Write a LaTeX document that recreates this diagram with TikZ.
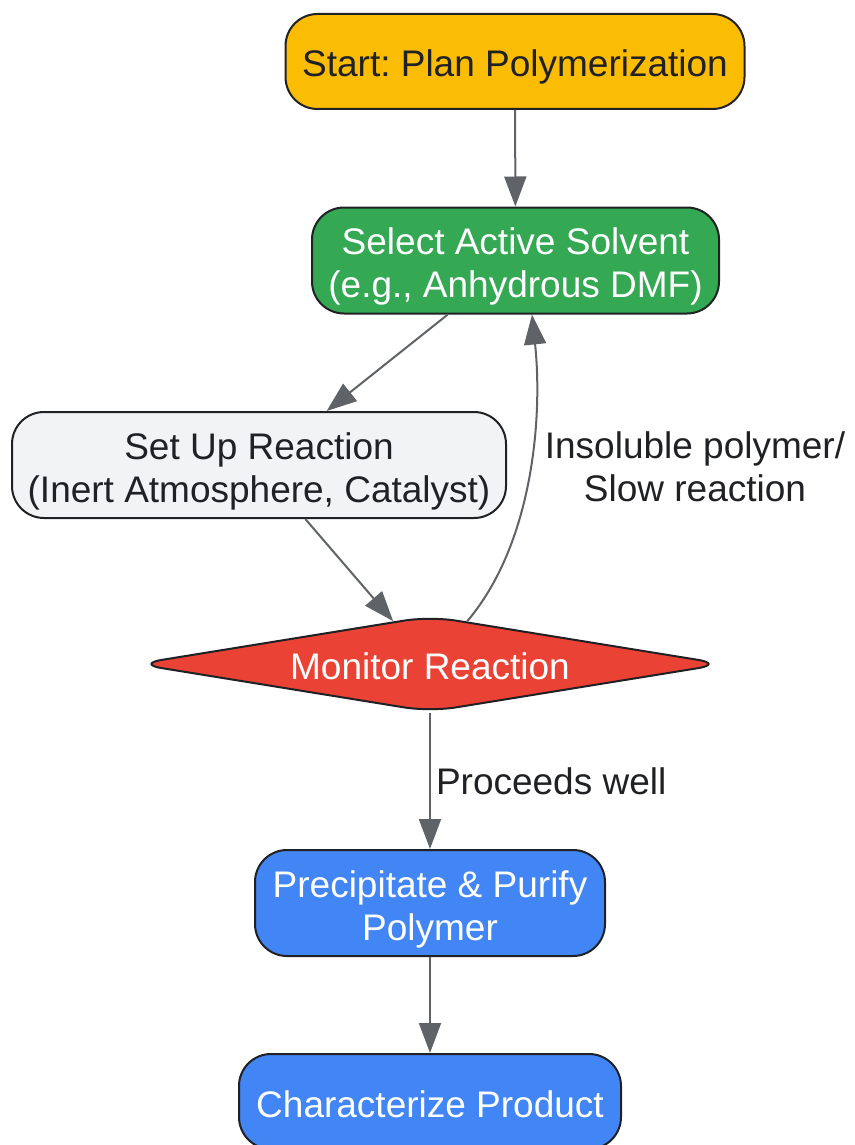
\documentclass[tikz,border=0pt]{standalone}
\usepackage{fontspec}
\setmainfont{Liberation Sans}
\frenchspacing
\usepackage{tikz}
\usetikzlibrary{shapes.geometric,arrows.meta}
\tikzset{>={Triangle[length=30pt,width=22pt]}}

\definecolor{gyellow}{HTML}{FBBC04}
\definecolor{ggreen}{HTML}{34A853}
\definecolor{ggrey}{HTML}{F1F3F4}
\definecolor{gred}{HTML}{EA4335}
\definecolor{gblue}{HTML}{4285F4}
\definecolor{edgegrey}{HTML}{5F6368}
\definecolor{inkdark}{HTML}{202124}

\begin{document}
\begin{tikzpicture}[x=1pt,y=-1pt]
      \tikzstyle{stepbox}=[draw=inkdark,line width=2pt,rounded corners=32pt,align=center,inner xsep=15pt,text height=38pt,font=\fontsize{37}{43}\selectfont];
      \tikzstyle{twoline}=[stepbox,text height=82pt,minimum height=106pt];
      \tikzstyle{decision}=[diamond,draw=inkdark,line width=2pt,rounded corners=26pt,aspect=6,inner sep=0pt,minimum width=588pt,minimum height=96pt,text height=31pt,font=\fontsize{37}{43}\selectfont];
      \tikzstyle{flow}=[draw=edgegrey,line width=2pt,->];
      \tikzstyle{flowlabel}=[text=inkdark,align=center,font=\fontsize{37}{43}\selectfont];
      \useasboundingbox (0,0) rectangle (854,1145);

      \node[stepbox,fill=gyellow,text=inkdark,minimum width=459pt,minimum height=95pt] (start) at (515,61.5) {Start: Plan Polymerization};
      \node[twoline,fill=ggreen,text=white,minimum width=407pt] (select) at (515.5,260.5) {Select Active Solvent\\(e.g., Anhydrous DMF)};
      \node[twoline,fill=ggrey,text=inkdark,minimum width=494pt] (setup) at (259,465) {Set Up Reaction\\(Inert Atmosphere, Catalyst)};
      \node[decision,fill=gred,text=white] (monitor) at (430,664) {Monitor Reaction};
      \node[twoline,fill=gblue,text=white,minimum width=350pt] (purify) at (430,903) {Precipitate \& Purify\\Polymer};
      \node[stepbox,fill=gblue,text=white,minimum width=382pt,minimum height=95pt,text height=33pt] (charact) at (430,1101.5) {Characterize Product};

      \draw[flow] (start) -- (select);
      \draw[flow] (select) -- (setup);
      \draw[flow] (setup) -- (monitor);
      \draw[flow] (monitor.49) .. controls (532,545) and (543,420) .. (select.-73);
      \node[flowlabel] (slowlabel) at (695,467) {Insoluble polymer/\\Slow reaction};
      \draw[flow] (monitor) -- (purify) node[flowlabel,midway,right,inner sep=5pt] (welllabel) {Proceeds well};
      \draw[flow] (purify) -- (charact);
    \end{tikzpicture}
\end{document}
